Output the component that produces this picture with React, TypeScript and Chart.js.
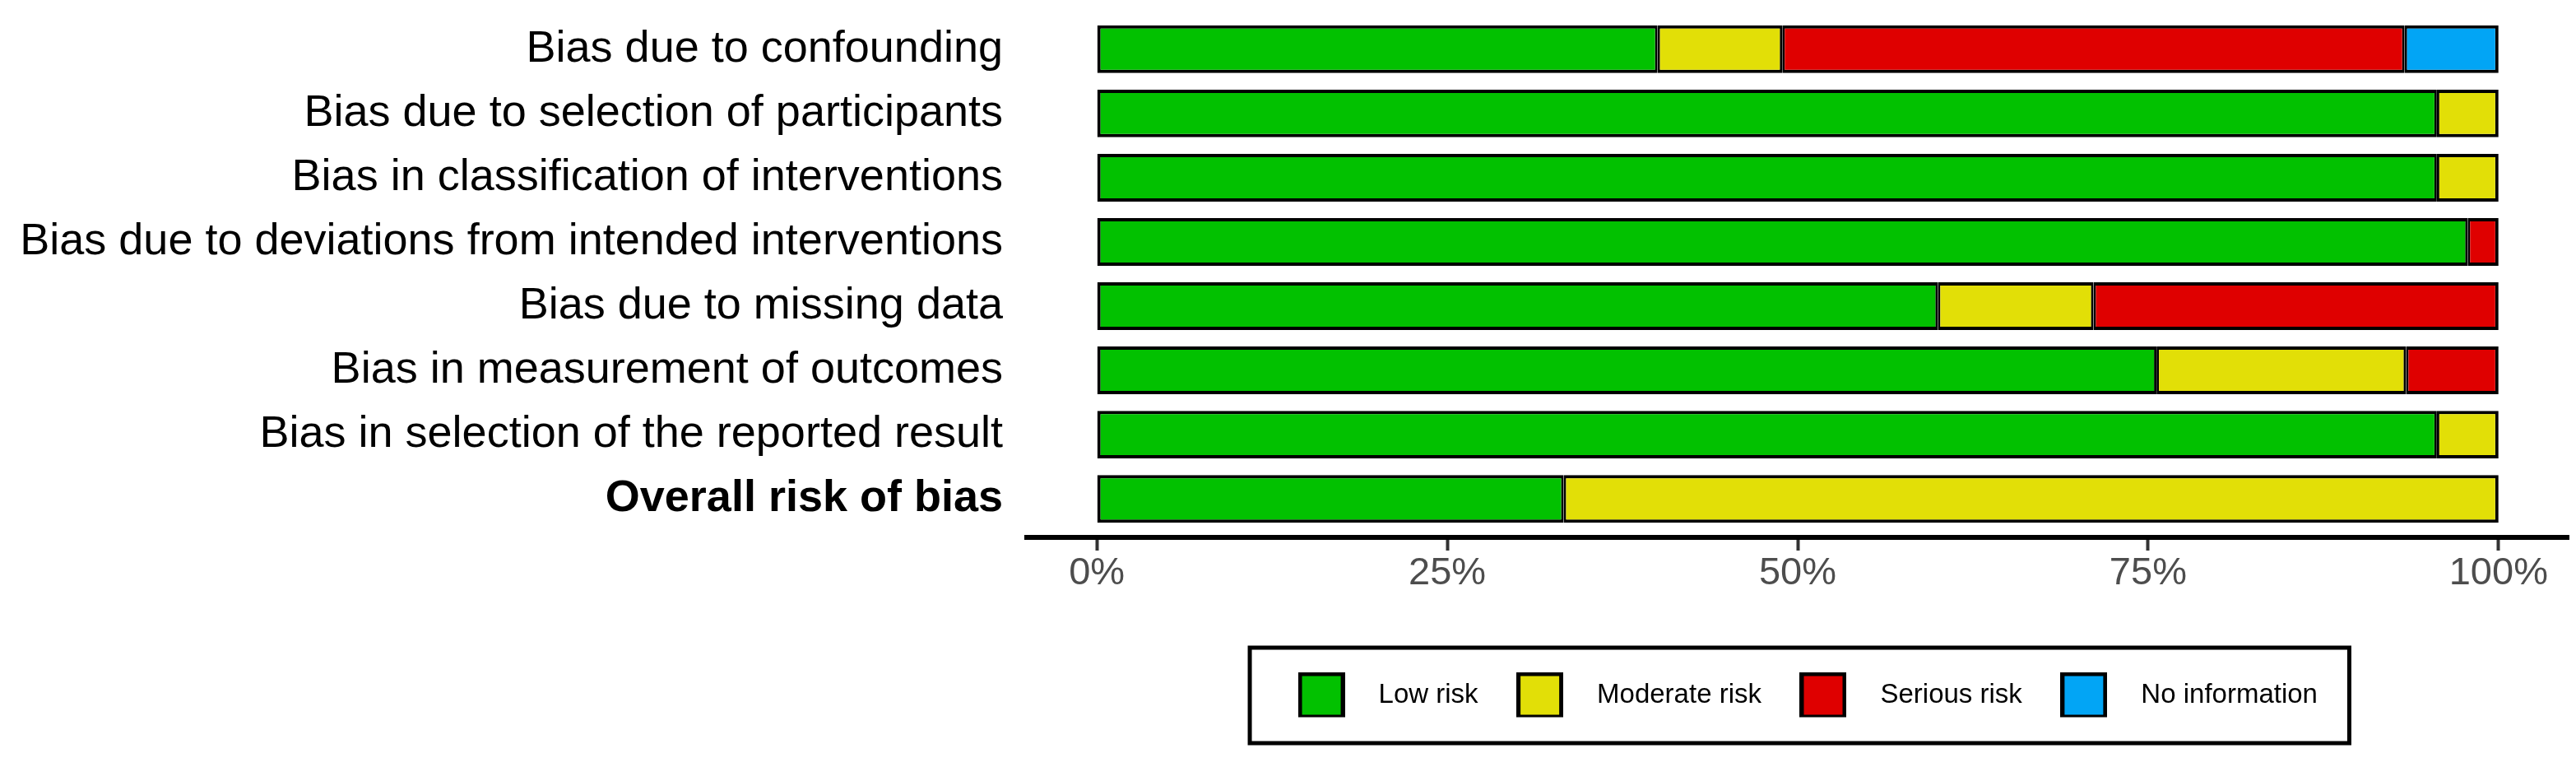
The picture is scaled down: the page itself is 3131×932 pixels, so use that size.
import React, { useEffect, useRef } from 'react';
import { Chart, registerables } from 'chart.js';

Chart.register(...registerables);

// ---- data ----
const domains = [
  'Bias due to confounding',
  'Bias due to selection of participants',
  'Bias in classification of interventions',
  'Bias due to deviations from intended interventions',
  'Bias due to missing data',
  'Bias in measurement of outcomes',
  'Bias in selection of the reported result',
  'Overall risk of bias',
];
const lowRisk = [40, 95.6, 95.6, 97.8, 60, 75.6, 95.6, 33.3];
const moderateRisk = [8.9, 4.4, 4.4, 0, 11.1, 17.8, 4.4, 66.7];
const seriousRisk = [44.4, 0, 0, 2.2, 28.9, 6.6, 0, 0];
const noInformation = [6.7, 0, 0, 0, 0, 0, 0, 0];
const seriesLabels = ['Low risk', 'Moderate risk', 'Serious risk', 'No information'];
const seriesColors = ['#02C100', '#E2DF07', '#DF0000', '#02A5F5'];
const xTickValues = [0, 25, 50, 75, 100];

const FONT = "'Liberation Sans', Arial, Helvetica, sans-serif";

export default function App() {
  const canvasRef = useRef<HTMLCanvasElement | null>(null);

  useEffect(() => {
    const canvas = canvasRef.current;
    if (!canvas) return;
    const seriesValues = [lowRisk, moderateRisk, seriousRisk, noInformation];

    const keyImages = seriesColors.map((c) => {
      const k = document.createElement('canvas');
      k.width = 57;
      k.height = 57;
      const g = k.getContext('2d')!;
      g.fillStyle = '#000';
      g.fillRect(0, 0, 57, 57);
      g.fillStyle = c;
      g.fillRect(5, 5, 47, 47);
      return k;
    });

    const segBorder = (ctx: any) => {
      const raw = ctx.raw;
      if (!raw) return 4;
      const cat = raw.y;
      let start = 0;
      for (let d = 0; d < ctx.datasetIndex; d++) start += seriesValues[d][cat];
      const end = start + raw.x;
      return {
        top: 4,
        bottom: 4,
        left: start <= 0.01 ? 4 : 3,
        right: end >= 99.9 ? 4 : 3,
      };
    };

    const legendFrame = {
      id: 'legendFrame',
      afterDraw(chart: any) {
        const lg = chart.legend;
        const hb = lg && lg.legendHitBoxes;
        if (!hb || !hb.length) return;
        const first = hb[0];
        const last = hb[hb.length - 1];
        const cy = first.top + first.height / 2;
        const left = first.left - 34;
        const right = last.left + last.width + 38.5;
        const ctx = chart.ctx;
        ctx.save();
        ctx.strokeStyle = '#000';
        ctx.lineWidth = 5;
        ctx.strokeRect(left, cy - 58, right - left, 116);
        ctx.restore();
      },
    };

    const chart = new Chart(canvas, {
      type: 'bar',
      data: {
        datasets: seriesValues.map((arr, di) => ({
          label: seriesLabels[di],
          data: arr.map((v, i) => ({ x: v, y: i })).filter((p) => p.x > 0),
          backgroundColor: seriesColors[di],
          borderColor: '#000',
          borderWidth: segBorder,
          borderSkipped: false,
          categoryPercentage: 1,
          barPercentage: 0.743,
        })),
      },
      options: {
        indexAxis: 'y',
        animation: false,
        responsive: false,
        layout: { padding: { top: 13, right: 9, bottom: 60.5, left: 0 } },
        scales: {
          x: {
            type: 'linear',
            stacked: true,
            min: -5,
            max: 105,
            offset: false,
            afterBuildTicks: (scale: any) => {
              scale.ticks = xTickValues.map((v) => ({ value: v }));
            },
            afterFit: (scale: any) => {
              scale.height = 153.5;
              scale.paddingLeft = 0;
              scale.paddingRight = 0;
            },
            border: { display: true, color: '#000', width: 6 },
            grid: {
              drawOnChartArea: false,
              drawTicks: true,
              tickLength: 16,
              tickWidth: 4,
              tickColor: '#333333',
            },
            ticks: {
              padding: 0,
              color: '#4D4D4D',
              font: { family: FONT, size: 47 },
              callback: (v: any) => `${v}%`,
              autoSkip: false,
              maxRotation: 0,
            },
          },
          y: {
            type: 'linear',
            stacked: true,
            reverse: true,
            offset: false,
            bounds: 'data',
            min: -0.6,
            max: 7.6,
            afterBuildTicks: (scale: any) => {
              scale.ticks = domains.map((_, i) => ({ value: i }));
            },
            afterFit: (scale: any) => {
              scale.width = 1248;
              scale.paddingTop = 0;
              scale.paddingBottom = 0;
            },
            border: { display: false },
            grid: { display: false, drawTicks: false, offset: false },
            ticks: {
              padding: 29,
              color: '#000',
              autoSkip: false,
              font: (c: any) => ({
                family: FONT,
                size: 54,
                weight: c.index === domains.length - 1 ? 'bold' : 'normal',
              }),
              callback: (v: any) => domains[Math.round(v)] ?? '',
            },
          },
        },
        plugins: {
          tooltip: { enabled: false },
          legend: {
            position: 'bottom',
            fullSize: false,
            align: 'center',
            labels: {
              usePointStyle: true,
              pointStyleWidth: 106,
              padding: 22,
              color: '#000',
              font: { family: FONT, size: 33 },
              generateLabels: (ch: any) =>
                ch.data.datasets.map((ds: any, i: number) => ({
                  text: ds.label,
                  pointStyle: keyImages[i],
                  fillStyle: seriesColors[i],
                  strokeStyle: '#000',
                  lineWidth: 0,
                  hidden: false,
                  datasetIndex: i,
                  fontColor: '#000',
                })),
            },
          },
        },
      },
      plugins: [legendFrame],
    } as any);

    return () => chart.destroy();
  }, []);

  return (
    <div style={{ position: 'absolute', left: 0, top: 0, width: 3131, height: 932, background: '#fff' }}>
      <canvas ref={canvasRef} width={3131} height={932} style={{ display: 'block' }} />
    </div>
  );
}
